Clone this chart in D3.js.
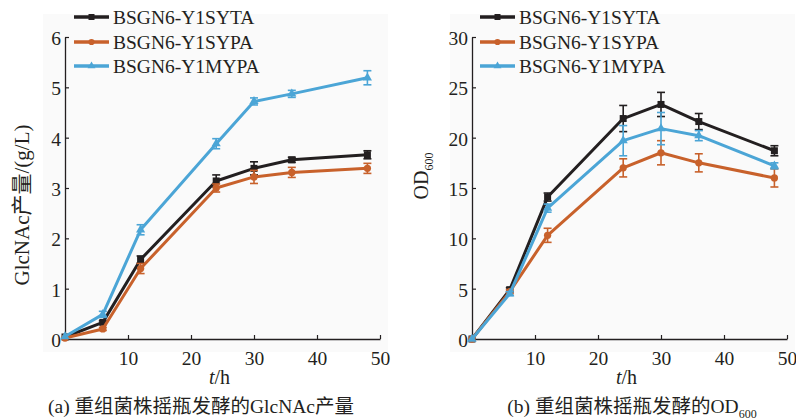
<!DOCTYPE html>
<html>
<head>
<meta charset="utf-8">
<script src="https://cdn.jsdelivr.net/npm/d3@7"></script>
<style>
  body { margin: 0; background: #fff; }
  text { font-family: "Liberation Serif", "Noto Sans CJK SC", serif; fill: #231f20; }
</style>
</head>
<body>
<div id="chart"></div>
<script>
const hours = [0, 6, 12, 24, 30, 36, 48];
const seriesNames = ["BSGN6-Y1SYTA", "BSGN6-Y1SYPA", "BSGN6-Y1MYPA"];
const seriesColors = ["#231f20", "#c8612b", "#4ba5d6"];
const seriesMarkers = ["square", "circle", "triangle"];

// (a) GlcNAc titer, g/L
const glcSYTA = [0.04, 0.33, 1.58, 3.14, 3.39, 3.56, 3.66];
const glcSYPA = [0.02, 0.2, 1.4, 3.0, 3.22, 3.31, 3.39];
const glcMYPA = [0.05, 0.49, 2.17, 3.88, 4.72, 4.87, 5.19];
const glcSYTAErr = [0, 0.03, 0.07, 0.12, 0.13, 0.05, 0.08];
const glcSYPAErr = [0, 0.03, 0.1, 0.08, 0.13, 0.1, 0.1];
const glcMYPAErr = [0, 0.06, 0.1, 0.1, 0.07, 0.07, 0.14];

// (b) OD600
const odSYTA = [0, 4.9, 14.1, 21.9, 23.3, 21.6, 18.7];
const odSYPA = [0, 4.7, 10.3, 17.0, 18.5, 17.5, 16.0];
const odMYPA = [0, 4.5, 13.0, 19.7, 20.9, 20.2, 17.2];
const odSYTAErr = [0, 0.2, 0.4, 1.3, 1.2, 0.8, 0.5];
const odSYPAErr = [0, 0.2, 0.7, 0.9, 1.2, 0.9, 0.9];
const odMYPAErr = [0, 0.2, 0.4, 1.5, 1.6, 0.5, 0.3];

const xTicks = [10, 20, 30, 40, 50];
const glcTicks = [0, 1, 2, 3, 4, 5, 6];
const odTicks = [0, 5, 10, 15, 20, 25, 30];

const svg = d3.select("#chart").append("svg")
  .attr("width", 796)
  .attr("height", 420);

function drawPanel(opt) {
  const x = d3.scaleLinear().domain([0, 50]).range([opt.left, opt.right]);
  const y = d3.scaleLinear().domain([0, opt.yMax]).range([339, 37]);

  svg.append("rect")
    .attr("x", opt.left - 22).attr("y", 14)
    .attr("width", opt.right - opt.left + 30).attr("height", 338)
    .attr("fill", "#fafafa");

  const ax = svg.append("g")
    .attr("transform", `translate(0,${y(0)})`)
    .call(d3.axisBottom(x).tickValues(xTicks).tickFormat(d3.format("d"))
      .tickSizeInner(-4).tickSizeOuter(0).tickPadding(8));
  const ay = svg.append("g")
    .attr("transform", `translate(${x(0)},0)`)
    .call(d3.axisLeft(y).tickValues(opt.yTicks).tickFormat(d3.format("d"))
      .tickSizeInner(-4).tickSizeOuter(0).tickPadding(4));
  [ax, ay].forEach(g => {
    g.select(".domain").attr("stroke", "#231f20").attr("stroke-width", 1.3);
    g.selectAll(".tick line").attr("stroke", "#231f20").attr("stroke-width", 1.2);
    g.selectAll(".tick text")
      .style("font-family", "Liberation Serif")
      .style("font-size", "19.5px")
      .attr("fill", "#231f20");
  });
  ax.selectAll(".tick text").attr("dy", "0.9em");
  ay.selectAll(".tick text").attr("dy", "0.38em");

  const line = d3.line().x(d => x(d.t)).y(d => y(d.v));

  opt.series.forEach((vals, si) => {
    const color = seriesColors[si];
    const pts = hours.map((t, i) => ({ t: t, v: vals[i], e: opt.errs[si][i] }));
    const g = svg.append("g");

    g.append("path")
      .datum(pts)
      .attr("d", line)
      .attr("fill", "none")
      .attr("stroke", color)
      .attr("stroke-width", 3)
      .attr("stroke-linejoin", "round");

    const eb = g.selectAll(".err").data(pts.filter(d => d.e > 0)).enter().append("g");
    eb.append("line")
      .attr("x1", d => x(d.t)).attr("x2", d => x(d.t))
      .attr("y1", d => y(d.v - d.e)).attr("y2", d => y(d.v + d.e))
      .attr("stroke", color).attr("stroke-width", 1.6);
    eb.append("line")
      .attr("x1", d => x(d.t) - 4).attr("x2", d => x(d.t) + 4)
      .attr("y1", d => y(d.v + d.e)).attr("y2", d => y(d.v + d.e))
      .attr("stroke", color).attr("stroke-width", 1.6);
    eb.append("line")
      .attr("x1", d => x(d.t) - 4).attr("x2", d => x(d.t) + 4)
      .attr("y1", d => y(d.v - d.e)).attr("y2", d => y(d.v - d.e))
      .attr("stroke", color).attr("stroke-width", 1.6);

    g.selectAll(".mk").data(pts).enter().append("path")
      .attr("transform", d => `translate(${x(d.t)},${y(d.v)})`)
      .attr("d", markerPath(seriesMarkers[si], 7))
      .attr("fill", color);
  });

  // legend
  const legendY = [17, 42, 66];
  seriesNames.forEach((name, i) => {
    const lg = svg.append("g").attr("transform", `translate(${opt.legendX},${legendY[i]})`);
    lg.append("line").attr("x1", 0).attr("x2", 35).attr("y1", 0).attr("y2", 0)
      .attr("stroke", seriesColors[i]).attr("stroke-width", 3.5);
    lg.append("path").attr("transform", "translate(17.5,0)")
      .attr("d", markerPath(seriesMarkers[i], 6)).attr("fill", seriesColors[i]);
    lg.append("text").attr("x", 39).attr("y", 0).attr("dy", "0.35em")
      .style("font-size", "19.5px").text(name);
  });

  // x label
  const xl = svg.append("text")
    .attr("x", (opt.left + opt.right) / 2 - 3).attr("y", 384)
    .attr("text-anchor", "middle").style("font-size", "20px");
  xl.append("tspan").style("font-style", "italic").text("t");
  xl.append("tspan").text("/h");

  // caption
  const cap = svg.append("text")
    .attr("x", opt.capX).attr("y", 413)
    .attr("text-anchor", "middle").style("font-size", "19.5px");
  opt.caption(cap);

  // y label
  const yl = svg.append("text")
    .attr("transform", `translate(${opt.yLabelX},${opt.yLabelY}) rotate(-90)`)
    .attr("text-anchor", "middle").style("font-size", opt.yLabelSize);
  opt.yLabel(yl);
}

function markerPath(kind, s) {
  if (kind === "square") return `M${-s / 2},${-s / 2}h${s}v${s}h${-s}Z`;
  if (kind === "circle") return d3.symbol(d3.symbolCircle, s * s * 0.85)();
  return d3.symbol(d3.symbolTriangle, s * s * 0.75)();
}

drawPanel({
  left: 65, right: 380, yMax: 6, yTicks: glcTicks,
  series: [glcSYTA, glcSYPA, glcMYPA],
  errs: [glcSYTAErr, glcSYPAErr, glcMYPAErr],
  legendX: 74, capX: 201,
  caption: t => t.text("(a) 重组菌株摇瓶发酵的GlcNAc产量"),
  yLabelX: 29, yLabelY: 205, yLabelSize: "21px",
  yLabel: t => t.text("GlcNAc产量/(g/L)")
});

drawPanel({
  left: 472, right: 787, yMax: 30, yTicks: odTicks,
  series: [odSYTA, odSYPA, odMYPA],
  errs: [odSYTAErr, odSYPAErr, odMYPAErr],
  legendX: 480, capX: 632,
  caption: t => {
    t.append("tspan").text("(b) 重组菌株摇瓶发酵的OD");
    t.append("tspan").attr("dy", 5).style("font-size", "12px").text("600");
  },
  yLabelX: 428, yLabelY: 176, yLabelSize: "20px",
  yLabel: t => {
    t.append("tspan").text("OD");
    t.append("tspan").attr("dy", 5).style("font-size", "12px").text("600");
  }
});
</script>
</body>
</html>
